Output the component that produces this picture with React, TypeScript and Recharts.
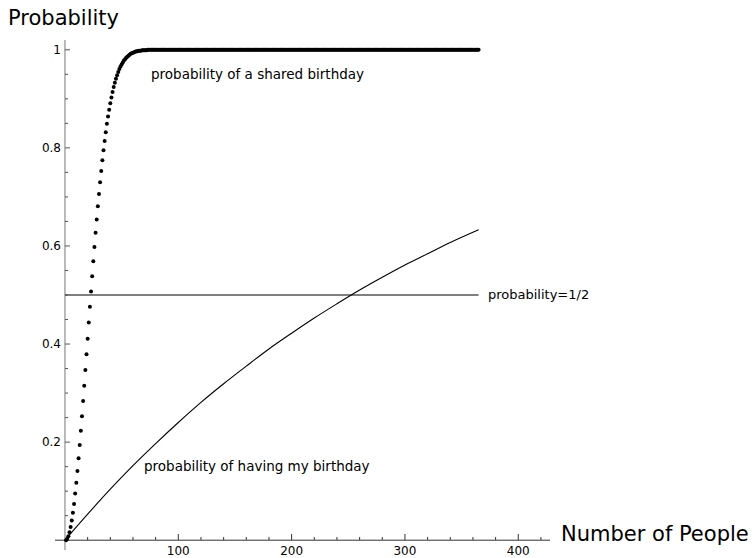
import { ComposedChart, XAxis, YAxis, Line, Scatter, ReferenceLine } from 'recharts';

// probability of a shared birthday, for 1..365 people (one dot per person count)
const sharedProb = [
    0, 0.003, 0.008, 0.016, 0.027, 0.040, 0.056, 0.074, 0.095, 0.117,
    0.141, 0.167, 0.194, 0.223, 0.253, 0.284, 0.315, 0.347, 0.379, 0.411,
    0.444, 0.476, 0.507, 0.538, 0.569, 0.598, 0.627, 0.654, 0.681, 0.706,
    0.730, 0.753, 0.775, 0.795, 0.814, 0.832, 0.849, 0.864, 0.878, 0.891,
    0.903, 0.914, 0.924, 0.933, 0.941, 0.948, 0.955, 0.961, 0.966, 0.970,
    0.974, 0.978, 0.981, 0.984, 0.986, 0.988, 0.990, 0.992, 0.993, 0.994,
    0.995, 0.996, 0.997, 0.997, 0.998, 0.998, 0.998, 0.999, 0.999, 0.999,
    0.999, 0.999, 1, 1, 1, 1, 1, 1, 1, 1, 1, 1, 1, 1, 1, 1, 1, 1, 1, 1,
    1, 1, 1, 1, 1, 1, 1, 1, 1, 1, 1, 1, 1, 1, 1, 1, 1, 1, 1, 1, 1, 1, 1, 1, 1,
    1, 1, 1, 1, 1, 1, 1, 1, 1, 1, 1, 1, 1, 1, 1, 1, 1, 1, 1, 1, 1, 1, 1, 1, 1,
    1, 1, 1, 1, 1, 1, 1, 1, 1, 1, 1, 1, 1, 1, 1, 1, 1, 1, 1, 1, 1, 1, 1, 1, 1,
    1, 1, 1, 1, 1, 1, 1, 1, 1, 1, 1, 1, 1, 1, 1, 1, 1, 1, 1, 1, 1, 1, 1, 1, 1,
    1, 1, 1, 1, 1, 1, 1, 1, 1, 1, 1, 1, 1, 1, 1, 1, 1, 1, 1, 1, 1, 1, 1, 1, 1,
    1, 1, 1, 1, 1, 1, 1, 1, 1, 1, 1, 1, 1, 1, 1, 1, 1, 1, 1, 1, 1, 1, 1, 1, 1,
    1, 1, 1, 1, 1, 1, 1, 1, 1, 1, 1, 1, 1, 1, 1, 1, 1, 1, 1, 1, 1, 1, 1, 1, 1,
    1, 1, 1, 1, 1, 1, 1, 1, 1, 1, 1, 1, 1, 1, 1, 1, 1, 1, 1, 1, 1, 1, 1, 1, 1,
    1, 1, 1, 1, 1, 1, 1, 1, 1, 1, 1, 1, 1, 1, 1, 1, 1, 1, 1, 1, 1, 1, 1, 1, 1,
    1, 1, 1, 1, 1, 1, 1, 1, 1, 1, 1, 1, 1, 1, 1, 1, 1, 1, 1, 1, 1, 1, 1, 1, 1,
    1, 1, 1, 1, 1, 1, 1, 1, 1, 1, 1, 1, 1, 1, 1, 1, 1, 1, 1, 1, 1, 1, 1, 1, 1,
];

// probability that someone has my birthday
const myPeople = [0, 20, 40, 60, 80, 100, 120, 140, 160, 180, 200, 220, 240, 260, 280, 300, 320, 340, 365];
const myProb = [0, 0.053, 0.104, 0.152, 0.197, 0.240, 0.281, 0.319, 0.355, 0.390, 0.422, 0.453, 0.482, 0.510, 0.536, 0.561, 0.584, 0.607, 0.633];

const halfPeople = [0, 365];
const halfProb = [0.5, 0.5];

const xTicks = [20, 40, 60, 80, 100, 120, 140, 160, 180, 200, 220, 240, 260, 280, 300, 320, 340, 360, 380, 400, 420];
const xLabels = [100, 200, 300, 400];
const yTicks = [0.05, 0.1, 0.15, 0.2, 0.25, 0.3, 0.35, 0.4, 0.45, 0.5, 0.55, 0.6, 0.65, 0.7, 0.75, 0.8, 0.85, 0.9, 0.95, 1];
const yLabels = [0.2, 0.4, 0.6, 0.8, 1];

const sharedData = sharedProb.map((p, i) => ({ n: i + 1, p }));
const myData = myPeople.map((n, i) => ({ n, p: myProb[i] }));
const halfData = halfPeople.map((n, i) => ({ n, p: halfProb[i] }));

const FONT = '"DejaVu Sans", sans-serif';
const AXIS_X = 65;
const AXIS_Y = 540;

function XTick(props: any) {
    const { x, payload } = props;
    const major = xLabels.includes(payload.value);
    return (
        <g>
            <line x1={x} x2={x} y1={AXIS_Y} y2={AXIS_Y - (major ? 6 : 3)} stroke="#333" />
            {major && (
                <text x={x} y={555} textAnchor="middle" fontSize={12} fontFamily={FONT} fill="#000">
                    {payload.value}
                </text>
            )}
        </g>
    );
}

function YTick(props: any) {
    const { y, payload } = props;
    const major = yLabels.some((v) => Math.abs(v - payload.value) < 1e-6);
    return (
        <g>
            <line x1={AXIS_X} x2={AXIS_X + (major ? 5 : 3)} y1={y} y2={y} stroke="#555" />
            {major && (
                <text x={61} y={y + 4} textAnchor="end" fontSize={12} fontFamily={FONT} fill="#000">
                    {payload.value}
                </text>
            )}
        </g>
    );
}

const Dot = (props: any) => <circle cx={props.cx} cy={props.cy} r={2} fill="#000" />;

export default function App() {
    return (
        <div style={{ position: 'fixed', left: 0, top: 0, width: 756, height: 558, background: '#fff' }}>
            <ComposedChart width={756} height={558} margin={{ top: 40, right: 206, left: 0, bottom: 0 }}>
                <XAxis
                    type="number"
                    dataKey="n"
                    domain={[-8.8, 428]}
                    ticks={xTicks}
                    interval={0}
                    tick={<XTick />}
                    axisLine={false}
                    tickLine={false}
                    height={8}
                    allowDataOverflow
                />
                <YAxis
                    type="number"
                    dataKey="p"
                    domain={[-0.02, 1.02]}
                    ticks={yTicks}
                    interval={0}
                    tick={<YTick />}
                    axisLine={false}
                    tickLine={false}
                    width={55}
                    allowDataOverflow
                />
                <ReferenceLine x={0} stroke="#777" />
                <ReferenceLine y={0} stroke="#333" />
                <Line data={halfData} dataKey="p" type="linear" stroke="#000" strokeWidth={1.1} dot={false} isAnimationActive={false} />
                <Line data={myData} dataKey="p" type="monotone" stroke="#000" strokeWidth={1.1} dot={false} isAnimationActive={false} />
                <Scatter data={sharedData} dataKey="p" fill="#000" shape={Dot} isAnimationActive={false} />
                <g fontFamily={FONT} fill="#000">
                    <text x={8} y={25} fontSize={21}>Probability</text>
                    <text x={561} y={541} fontSize={21}>Number of People</text>
                    <text x={151} y={79} fontSize={13.5}>probability of a shared birthday</text>
                    <text x={488} y={299} fontSize={13}>probability=1/2</text>
                    <text x={144} y={471} fontSize={13.5}>probability of having my birthday</text>
                </g>
            </ComposedChart>
        </div>
    );
}
